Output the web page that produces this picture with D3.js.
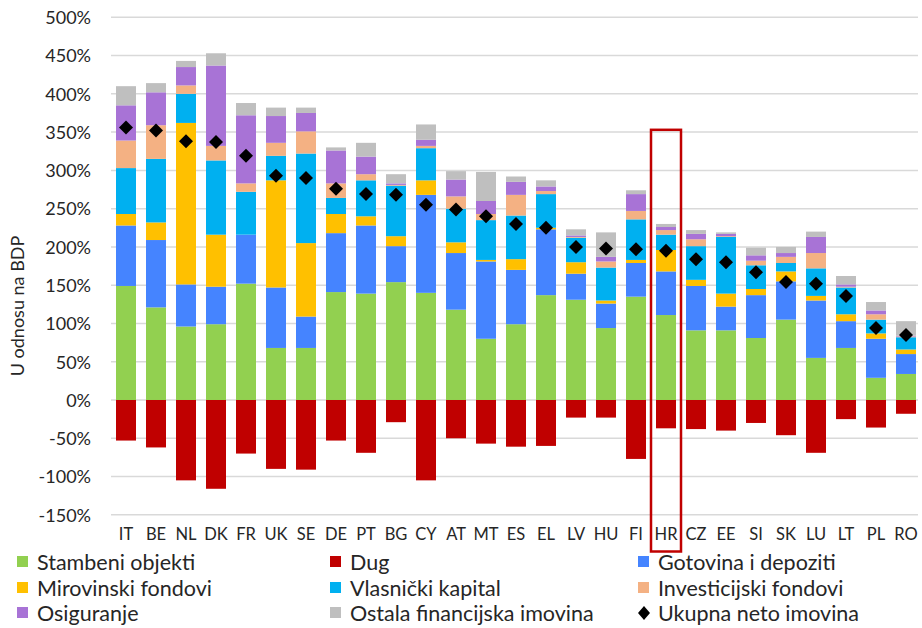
<!DOCTYPE html>
<html>
<head>
<meta charset="utf-8">
<script src="https://cdn.jsdelivr.net/npm/d3@7"></script>
<style>
    body { margin: 0; background: #fff; }
    text { font-family: Lato, "Open Sans", sans-serif; fill: #262626; }
</style>
</head>
<body>
<div id="chart"></div>
<script>
const countries = ['IT', 'BE', 'NL', 'DK', 'FR', 'UK', 'SE', 'DE', 'PT', 'BG', 'CY', 'AT', 'MT', 'ES', 'EL', 'LV', 'HU', 'FI', 'HR', 'CZ', 'EE', 'SI', 'SK', 'LU', 'LT', 'PL', 'RO'];

const stambeni = [149, 121, 96, 99, 152, 68, 68, 141, 139, 154, 140, 118, 80, 99, 137, 131, 94, 135, 111, 91, 91, 81, 105, 55, 68, 29, 34];
const gotovina = [79, 88, 55, 49, 64, 79, 41, 77, 89, 47, 128, 74, 101, 71, 86, 34, 32, 44, 57, 58, 31, 56, 50, 75, 35, 51, 26];
const mirovinski = [15, 23, 211, 68, 0, 140, 96, 25, 12, 13, 19, 14, 2, 14, 2, 15, 4, 4, 28, 8, 17, 8, 13, 6, 9, 7, 6];
const vlasnicki = [60, 83, 38, 97, 56, 32, 117, 21, 47, 66, 42, 44, 52, 57, 44, 32, 43, 53, 20, 44, 74, 31, 11, 36, 35, 18, 16];
const investicijski = [36, 44, 11, 19, 11, 17, 29, 19, 8, 1, 3, 16, 8, 27, 4, 1, 8, 11, 6, 9, 1, 6, 8, 20, 1, 7, 1];
const osiguranje = [46, 43, 24, 105, 89, 35, 24, 43, 23, 2, 8, 22, 17, 17, 6, 2, 6, 22, 4, 7, 3, 7, 5, 21, 3, 5, 1];
const ostala = [25, 12, 8, 16, 16, 11, 7, 4, 18, 12, 20, 11, 38, 7, 8, 8, 32, 5, 4, 5, 2, 10, 8, 7, 11, 11, 19];
const dug = [-53, -62, -105, -116, -70, -90, -91, -53, -69, -29, -105, -50, -57, -61, -60, -23, -23, -77, -37, -38, -40, -30, -46, -69, -25, -36, -18];
const neto = [356, 352, 338, 337, 319, 293, 290, 276, 269, 268, 255, 249, 240, 230, 225, 200, 198, 197, 195, 184, 180, 167, 154, 152, 136, 94, 85];

const yTicks = [-150, -100, -50, 0, 50, 100, 150, 200, 250, 300, 350, 400, 450, 500];

const width = 922, height = 628;
const plotLeft = 111, plotRight = 921, plotTop = 17.3, plotBottom = 514.8;

// stacked positive series, bottom to top
const positive = [
    { name: 'Stambeni objekti', values: stambeni, color: '#92D050' },
    { name: 'Gotovina i depoziti', values: gotovina, color: '#4584FF' },
    { name: 'Mirovinski fondovi', values: mirovinski, color: '#FFC000' },
    { name: 'Vlasnički kapital', values: vlasnicki, color: '#00B0F0' },
    { name: 'Investicijski fondovi', values: investicijski, color: '#F4B183' },
    { name: 'Osiguranje', values: osiguranje, color: '#A873D6' },
    { name: 'Ostala financijska imovina', values: ostala, color: '#BFBFBF' }
];
const dugColor = '#C00000';

const svg = d3.select('#chart')
    .append('svg')
    .attr('width', width)
    .attr('height', height);

const xScale = d3.scaleBand()
    .domain(countries)
    .range([plotLeft, plotRight])
    .paddingInner(1 / 3)
    .paddingOuter(1 / 6);

const yScale = d3.scaleLinear()
    .domain([-150, 500])
    .range([plotBottom, plotTop]);

// gridlines
svg.append('g')
    .selectAll('line')
    .data(yTicks)
    .join('line')
    .attr('x1', plotLeft)
    .attr('x2', plotRight - 3)
    .attr('y1', d => yScale(d))
    .attr('y2', d => yScale(d))
    .attr('stroke', '#d9d9d9')
    .attr('stroke-width', 1.5);

// y axis labels
const yAxis = svg.append('g')
    .attr('transform', `translate(${plotLeft - 17}, 0)`)
    .call(d3.axisLeft(yScale).tickValues(yTicks).tickSize(0).tickFormat(d => d + '%'));
yAxis.select('.domain').remove();
yAxis.selectAll('text')
    .style('font-family', 'Lato, sans-serif')
    .style('font-size', '18px')
    .attr('fill', '#262626')
    .attr('dy', '0.35em');

svg.append('text')
    .attr('transform', `translate(24, 306) rotate(-90)`)
    .attr('text-anchor', 'middle')
    .style('font-size', '18px')
    .text('U odnosu na BDP');

// stacked bars
const barGroup = svg.append('g');
countries.forEach((c, i) => {
    let base = 0;
    positive.forEach(s => {
        const v = s.values[i];
        if (v > 0) {
            barGroup.append('rect')
                .attr('x', xScale(c))
                .attr('width', xScale.bandwidth())
                .attr('y', yScale(base + v))
                .attr('height', yScale(base) - yScale(base + v))
                .attr('fill', s.color);
        }
        base += v;
    });
    barGroup.append('rect')
        .attr('x', xScale(c))
        .attr('width', xScale.bandwidth())
        .attr('y', yScale(0))
        .attr('height', yScale(dug[i]) - yScale(0))
        .attr('fill', dugColor);
});

// net wealth diamonds
const diamond = d3.symbol().type(d3.symbolSquare).size(98);
svg.append('g')
    .selectAll('path')
    .data(countries)
    .join('path')
    .attr('d', diamond)
    .attr('transform', (d, i) => `translate(${xScale(d) + xScale.bandwidth() / 2}, ${yScale(neto[i])}) rotate(45)`)
    .attr('fill', '#000');

// x axis labels
const xAxis = svg.append('g')
    .attr('transform', `translate(0, ${plotBottom + 10})`)
    .call(d3.axisBottom(xScale).tickSize(0));
xAxis.select('.domain').remove();
xAxis.selectAll('text')
    .style('font-family', 'Lato, sans-serif')
    .style('font-size', '16.5px')
    .attr('fill', '#262626');

// highlight box around HR
const hl = 'HR';
svg.append('rect')
    .attr('x', xScale(hl) - 5)
    .attr('width', xScale.bandwidth() + 10)
    .attr('y', yScale(353))
    .attr('height', 551.5 - yScale(353))
    .attr('fill', 'none')
    .attr('stroke', '#C00000')
    .attr('stroke-width', 2.5);

// legend
const legendItems = [
    { name: 'Stambeni objekti', color: '#92D050' },
    { name: 'Dug', color: dugColor },
    { name: 'Gotovina i depoziti', color: '#4584FF' },
    { name: 'Mirovinski fondovi', color: '#FFC000' },
    { name: 'Vlasnički kapital', color: '#00B0F0' },
    { name: 'Investicijski fondovi', color: '#F4B183' },
    { name: 'Osiguranje', color: '#A873D6' },
    { name: 'Ostala financijska imovina', color: '#BFBFBF' },
    { name: 'Ukupna neto imovina', diamond: true }
];
const colX = [17, 330, 638];
const rowY = [562, 588, 613];
const legend = svg.append('g');
legendItems.forEach((item, i) => {
    const x = colX[i % 3], y = rowY[Math.floor(i / 3)];
    if (item.diamond) {
        legend.append('path')
            .attr('d', 'M0,-7L6,0L0,7L-6,0Z')
            .attr('transform', `translate(${x + 6}, ${y})`)
            .attr('fill', '#000');
    } else {
        legend.append('rect')
            .attr('x', x)
            .attr('y', y - 6)
            .attr('width', 11)
            .attr('height', 11)
            .attr('fill', item.color);
    }
    legend.append('text')
        .attr('x', x + 20)
        .attr('y', y)
        .attr('dy', '0.35em')
        .style('font-size', '21.5px')
        .text(item.name);
});
</script>
</body>
</html>
